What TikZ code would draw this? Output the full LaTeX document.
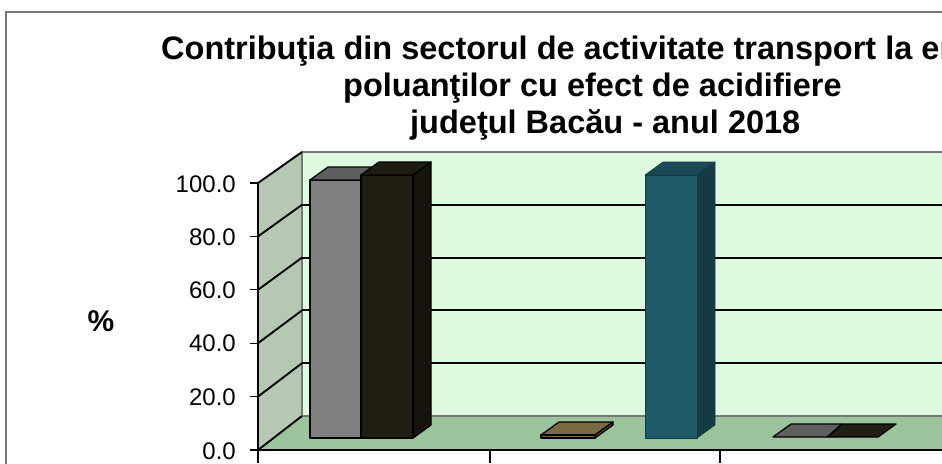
\documentclass[tikz,border=0pt]{standalone}
\usepackage{fontspec}
\setmainfont{Liberation Sans}
\definecolor{backwall}{RGB}{222,250,222}
\definecolor{leftwall}{RGB}{180,200,178}
\definecolor{floorc}{RGB}{156,196,156}
\definecolor{edgegray}{RGB}{120,120,120}
\definecolor{grayfront}{RGB}{128,128,128}
\definecolor{graytop}{RGB}{95,95,95}
\definecolor{darkfront}{RGB}{33,30,20}
\definecolor{darkside}{RGB}{22,20,13}
\definecolor{darktop}{RGB}{30,28,18}
\definecolor{tealfront}{RGB}{31,90,104}
\definecolor{tealside}{RGB}{20,58,68}
\definecolor{tealtop}{RGB}{26,74,86}
\definecolor{brownc}{RGB}{122,106,64}
\definecolor{slabgray}{RGB}{96,96,96}
\begin{document}
\begin{tikzpicture}[x=1pt,y=-1pt,
  wallline/.style={line width=1.9pt,black},
  baredge/.style={draw=black,line width=1.3pt,line join=round},
  tealedge/.style={draw=tealside,line width=0.6pt,line join=round},
  ticklab/.style={anchor=east,inner sep=0pt,font=\fontsize{24}{28}\selectfont},
  titleline/.style={anchor=base west,inner sep=0pt,font=\fontsize{32.5}{39}\selectfont\bfseries}]
\useasboundingbox (0,0) rectangle (942,463);
\clip (0,0) rectangle (942,463);
% outer border
\draw[edgegray,line width=2pt] (6,470) -- (6,12) -- (950,12);
% walls and floor
\fill[backwall] (302,152) -- (950,152) -- (950,416) -- (302,416) -- cycle;
\fill[leftwall] (258,450) -- (258,183) -- (302,152) -- (302,416) -- cycle;
\fill[floorc] (258,450) -- (302,416) -- (950,416) -- (950,450) -- cycle;
\draw[edgegray,line width=1.3pt] (302,416) -- (302,152) -- (950,152);
\draw[edgegray,line width=1.3pt] (302,416) -- (950,416);
% back wall grid lines and left wall lines
\foreach \v in {20,40,60,80} {
  \draw[wallline] (302,{416-2.64*\v}) -- (950,{416-2.64*\v});
}
\foreach \v in {0,20,40,60,80,100} {
  \draw[wallline] (258,{450-2.67*\v}) -- (302,{416-2.64*\v});
  \draw[black,line width=1.2pt] (250,{450-2.67*\v}) -- (258,{450-2.67*\v});
}
% gray bar
\filldraw[baredge,fill=grayfront] (310,438) rectangle (361,180);
\filldraw[baredge,fill=graytop] (310,180) -- (328,167) -- (379,167) -- (361,180) -- cycle;
% dark bar
\filldraw[baredge,fill=darkside] (413,175) -- (431,162) -- (431,425) -- (413,438) -- cycle;
\filldraw[baredge,fill=darkfront] (361,438) rectangle (413,175);
\filldraw[baredge,fill=darktop] (361,175) -- (379,162) -- (431,162) -- (413,175) -- cycle;
% brown slab
\filldraw[baredge,fill=brownc] (541,435) -- (559,422) -- (613,422) -- (595,435) -- cycle;
\filldraw[baredge,fill=brownc] (541,438) rectangle (595,435);
\filldraw[baredge,fill=brownc!70!black] (595,435) -- (613,422) -- (613,425) -- (595,438) -- cycle;
% teal bar
\filldraw[tealedge,fill=tealside] (697,175) -- (715,162) -- (715,425) -- (697,438) -- cycle;
\filldraw[tealedge,fill=tealfront] (645,438) rectangle (697,175);
\filldraw[tealedge,fill=tealtop] (645,175) -- (663,162) -- (715,162) -- (697,175) -- cycle;
% gray and dark slabs
\filldraw[baredge,fill=darkfront] (827,437) -- (842,424) -- (896,424) -- (878,437) -- cycle;
\filldraw[baredge,fill=slabgray] (773,437) -- (791,424) -- (842,424) -- (827,437) -- cycle;
% axes
\draw[black,line width=2.4pt] (258,183) -- (258,451);
\draw[black,line width=2.4pt] (257,450) -- (950,450);
\foreach \x in {258,490,720} {
  \draw[black,line width=1.2pt] (\x,450) -- (\x,463);
}
% tick labels
\node[ticklab] (l100) at (236,184) {100.0};
\node[ticklab] (l80) at (236,237) {80.0};
\node[ticklab] (l60) at (236,290) {60.0};
\node[ticklab] (l40) at (236,343) {40.0};
\node[ticklab] (l20) at (236,397) {20.0};
\node[ticklab] (l0) at (236,451) {0.0};
\node[font=\fontsize{30}{34}\selectfont\bfseries,inner sep=0pt] (pct) at (101,321) {\%};
% title
\node[titleline] (t1) at (161,59) {Contribuţia din sectorul de activitate transport la emisia};
\node[titleline] (t2) at (343,96) {poluanţilor cu efect de acidifiere};
\node[titleline] (t3) at (410,133) {judeţul Bacău - anul 2018};
\end{tikzpicture}
\end{document}
